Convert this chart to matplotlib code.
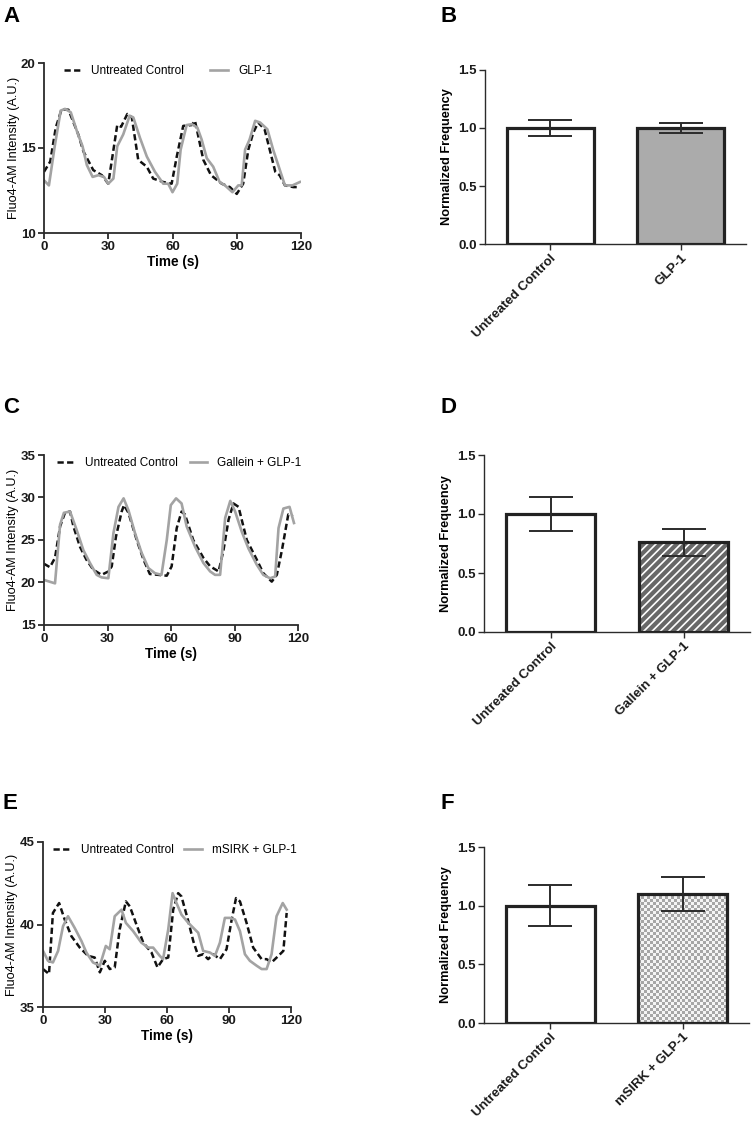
import numpy as np
import matplotlib
matplotlib.use("Agg")
import matplotlib.pyplot as plt

plt.rcParams['font.family'] = ['Liberation Sans', 'DejaVu Sans']
plt.rcParams['lines.scale_dashes'] = False
plt.rcParams['hatch.linewidth'] = 1.2

# ---- trace data (time in s, Fluo4-AM intensity) ----
tA_ctrl = [0, 2.9, 5.5, 8.2, 11.4, 16, 18.4, 23, 27, 30, 34.2, 36, 38.9, 41, 44, 48, 51, 55.7,
           59.6, 62, 65, 69, 70.5, 74.4, 78, 83, 86.8, 90, 93, 95.4, 97.7, 100, 103, 108,
           110, 112.5, 116.4, 118]
yA_ctrl = [13.6, 14.2, 16.2, 17.27, 17.25, 15.8, 14.8, 13.7, 13.4, 12.9, 16.35, 16.25, 17.0,
           16.8, 14.3, 13.9, 13.2, 13.0, 12.9, 14.5, 16.3, 16.35, 16.6, 14.3, 13.4, 12.9,
           12.7, 12.3, 12.9, 14.9, 15.9, 16.5, 16.1, 13.6, 13.4, 12.8, 12.7, 12.7]
tA_glp = [0, 2.3, 5, 7.8, 9.8, 12.5, 15.6, 18, 20, 22.7, 25.4, 28, 30, 32.4, 34.2, 37, 40,
          41.7, 44.8, 48, 51.8, 55.7, 58, 60, 62.2, 63.8, 66.6, 69, 71.6, 73.6, 76, 79, 82,
          84.5, 88, 90.7, 92.3, 93.9, 96, 98.6, 100.9, 104.3, 107, 112.5, 116, 119.5]
yA_glp = [13.1, 12.8, 15.1, 17.2, 17.3, 17.1, 15.9, 15.1, 14.0, 13.3, 13.4, 13.3, 12.9, 13.2,
          15.1, 15.8, 16.9, 16.8, 15.6, 14.5, 13.6, 12.9, 12.9, 12.4, 12.9, 14.9, 16.35, 16.4,
          16.2, 15.5, 14.4, 13.9, 13.0, 12.8, 12.4, 12.8, 12.8, 14.9, 15.5, 16.6, 16.5, 16.1,
          14.9, 12.8, 12.8, 13.0]

tC_ctrl = [0, 2.8, 5.2, 7.6, 9.9, 12.3, 13.9, 17, 20, 23.3, 27.2, 30.4, 32, 34, 36.7, 37.8,
           39.9, 43.8, 47, 50, 54, 58, 60.3, 62.7, 65, 66.6, 70.5, 75.3, 78.5, 82.5, 84.8,
           87.2, 89.5, 91.9, 95.8, 100.5, 103.6, 107.6, 110, 112.4, 115.4, 117.6]
yC_ctrl = [22.2, 21.8, 22.9, 26.6, 28.2, 28.35, 26.6, 24.2, 22.7, 21.5, 20.9, 21.3, 21.9, 25.4,
           28.35, 29.1, 28.2, 25.0, 22.7, 21.0, 20.9, 20.8, 21.9, 26.4, 28.35, 28.0, 25.0,
           22.9, 21.9, 21.3, 23.8, 27.4, 29.3, 28.9, 25.0, 22.7, 21.1, 20.1, 20.9, 23.8,
           28.0, 27.8]
tC_gal = [0, 5.2, 7.6, 9.4, 12.3, 15.4, 18.6, 21.7, 24.9, 27.2, 30.4, 32.8, 35.2, 37.6, 39.9,
          43, 46.1, 49.3, 52.4, 55.5, 58, 59.9, 62.4, 65, 67.4, 71.4, 75.3, 78.5, 80.8, 83.2,
          85.6, 88, 90.3, 93.4, 96.6, 100.5, 103.6, 106.8, 109.2, 110.8, 113.1, 116, 118.1]
yC_gal = [20.3, 19.9, 26.8, 28.2, 28.35, 26.2, 23.8, 22.3, 20.9, 20.6, 20.5, 25.8, 28.9, 29.9,
          28.5, 25.8, 23.5, 21.7, 21.1, 20.9, 25.0, 29.1, 29.9, 29.3, 26.6, 24.2, 22.3, 21.3,
          20.9, 20.9, 27.6, 29.6, 28.35, 26.0, 24.0, 22.1, 20.9, 20.5, 20.7, 26.4, 28.7, 28.9,
          27.0]

tE_ctrl = [0, 2.9, 4.8, 7.8, 10.5, 13.7, 17.8, 21.8, 25, 27.5, 29.9, 32.3, 34.7, 37.1, 40.1,
           42, 45.2, 48.5, 52.5, 55.4, 58.1, 60.6, 63, 65.4, 67, 70.3, 72.7, 75.1, 77.5, 79.9,
           82.4, 85.6, 88.8, 91.3, 93.4, 95.3, 98.5, 101.7, 105.8, 108.2, 110.6, 113.9, 116.3,
           117.9]
yE_ctrl = [37.3, 37.0, 40.7, 41.3, 40.3, 39.3, 38.6, 38.1, 38.0, 37.1, 37.8, 37.3, 37.4, 39.7,
           41.4, 41.1, 40.0, 38.9, 38.3, 37.4, 37.9, 38.0, 40.9, 41.9, 41.7, 40.2, 39.0, 38.1,
           38.2, 37.9, 38.2, 37.9, 38.5, 40.3, 41.6, 41.4, 40.1, 38.6, 37.9, 37.9, 37.7, 38.1,
           38.4, 40.7]
tE_msirk = [0, 2.4, 4.8, 7.3, 9.7, 12.1, 15.3, 18.6, 21, 24.2, 27.5, 30.4, 32.3, 34.7, 38,
            40.1, 43.6, 47.6, 50.9, 53.3, 56.5, 58.1, 60.6, 62.7, 64.6, 67, 70.3, 72.7, 75.1,
            77.5, 80.8, 83.2, 85.6, 88, 90.4, 92.9, 95.3, 97.7, 100.1, 103.4, 105.8, 108.2,
            110.6, 113, 116, 117.9]
yE_msirk = [38.4, 37.8, 37.7, 38.4, 39.9, 40.5, 39.8, 39.0, 38.3, 37.7, 37.5, 38.7, 38.5, 40.5,
            40.9, 40.1, 39.6, 38.9, 38.6, 38.6, 38.1, 37.9, 39.7, 41.9, 41.3, 40.6, 40.1, 39.8,
            39.5, 38.4, 38.3, 38.1, 38.9, 40.4, 40.4, 40.3, 39.6, 38.2, 37.8, 37.5, 37.3, 37.3,
            38.2, 40.5, 41.3, 40.9]

# ---- bar data (normalized frequency, mean and error) ----
groups_B = ['Untreated Control', 'GLP-1']
mean_B = [1.0, 1.0]
err_B = [0.07, 0.04]
groups_D = ['Untreated Control', 'Gallein + GLP-1']
mean_D = [1.0, 0.76]
err_D = [0.14, 0.115]
groups_F = ['Untreated Control', 'mSIRK + GLP-1']
mean_F = [1.0, 1.1]
err_F = [0.177, 0.142]

W, H = 755, 1122
fig = plt.figure(figsize=(W / 100, H / 100), dpi=100)

def px_axes(left, top, right, bottom):
    return fig.add_axes([left / W, 1 - bottom / H, (right - left) / W, (bottom - top) / H])

AX = '#2b2b2b'

def style(ax, lw):
    for s in ['top', 'right']:
        ax.spines[s].set_visible(False)
    for s in ['left', 'bottom']:
        ax.spines[s].set_color(AX)
        ax.spines[s].set_linewidth(lw)
    ax.tick_params(direction='out', length=4, width=lw, color=AX, labelsize=9.5,
                   pad=2, labelcolor='#1a1a1a')
    for lab in ax.get_xticklabels() + ax.get_yticklabels():
        lab.set_fontweight('bold')

def trace_panel(box, t1, y1, t2, y2, label2, ylim, yticks, leg_anchor, colsp):
    ax = px_axes(*box)
    ax.plot(t1, y1, color='#111111', lw=1.8, dashes=(4.5, 2.4), label='Untreated Control')
    ax.plot(t2, y2, color='#a3a3a3', lw=1.9, label=label2)
    ax.set_xlim(0, 120)
    ax.set_ylim(*ylim)
    ax.set_xticks([0, 30, 60, 90, 120])
    ax.set_yticks(yticks)
    style(ax, 1.3)
    ax.set_xlabel('Time (s)', fontsize=9.8, fontweight='bold', labelpad=1)
    ax.set_ylabel('Fluo4-AM Intensity (A.U.)', fontsize=9.1, labelpad=1)
    ax.legend(loc='upper left', bbox_to_anchor=leg_anchor, ncol=2, frameon=False,
              fontsize=8.5, handlelength=1.5, handletextpad=0.85, columnspacing=colsp,
              borderaxespad=0)
    return ax

def bar_panel(box, groups, means, errs, kind):
    ax = px_axes(*box)
    x = np.arange(len(groups))
    bars = ax.bar(x, means, width=0.67, color='white', edgecolor='#222222', linewidth=2.3,
                  zorder=2)
    b2 = bars[1]
    ax.set_xlim(-0.5, 1.5)
    ax.set_ylim(0, 1.5)
    if kind == 'gray':
        b2.set_facecolor('#ababab')
    elif kind == 'hatch':
        ax.bar(x[1:], means[1:], width=0.67, color='#686868', edgecolor='white',
               hatch='////', linewidth=0, zorder=1.5)
        b2.set_fill(False)
    elif kind == 'check':
        # checker cells of about 3 px
        p0 = ax.transData.transform((b2.get_x(), 0))
        p1 = ax.transData.transform((b2.get_x() + b2.get_width(), b2.get_height()))
        n_x = max(1, int(round((p1[0] - p0[0]) / 3)))
        n_y = max(1, int(round((p1[1] - p0[1]) / 3)))
        cb = (np.add.outer(np.arange(n_y), np.arange(n_x)) % 2).astype(float)
        x0 = b2.get_x()
        im = ax.imshow(cb, cmap=matplotlib.colors.ListedColormap(['#a6a6a6', '#f4f4f4']),
                       extent=[x0, x0 + b2.get_width(), 0, b2.get_height()],
                       aspect='auto', interpolation='nearest', zorder=1.5)
        im.set_clip_path(b2)
        b2.set_fill(False)
        ax.set_xlim(-0.5, 1.5)
        ax.set_ylim(0, 1.5)
    ax.errorbar(x, means, yerr=errs, fmt='none', ecolor='#2b2b2b', elinewidth=1.4,
                capsize=16, capthick=1.4, zorder=3)
    ax.set_yticks([0, 0.5, 1.0, 1.5])
    ax.set_yticklabels(['0.0', '0.5', '1.0', '1.5'])
    ax.set_xticks(x)
    ax.set_xticklabels(groups, rotation=45, ha='right', rotation_mode='anchor')
    style(ax, 1.0)
    ax.set_ylabel('Normalized Frequency', fontsize=9.2, fontweight='bold', labelpad=4)
    return ax

trace_panel((44, 63, 301, 233), tA_ctrl, yA_ctrl, tA_glp, yA_glp, 'GLP-1',
            (10, 20), [10, 15, 20], (0.058, 1.018), 2.2)
trace_panel((44, 455, 298, 625), tC_ctrl, yC_ctrl, tC_gal, yC_gal, 'Gallein + GLP-1',
            (15, 35), [15, 20, 25, 30, 35], (0.033, 1.018), 1.0)
trace_panel((43, 842, 291, 1007), tE_ctrl, yE_ctrl, tE_msirk, yE_msirk, 'mSIRK + GLP-1',
            (35, 45), [35, 40, 45], (0.021, 1.018), 0.9)

bar_panel((485, 70, 746, 244), groups_B, mean_B, err_B, 'gray')
bar_panel((484, 455, 750, 632), groups_D, mean_D, err_D, 'hatch')
bar_panel((484, 847, 749, 1023), groups_F, mean_F, err_F, 'check')

for letter, xp, yp in [('A', 3, 6), ('B', 440, 6), ('C', 3, 397), ('D', 440, 397),
                       ('E', 3, 793), ('F', 440, 793)]:
    fig.text(xp / W, 1 - yp / H, letter, fontsize=16, fontweight='bold', va='top', ha='left')

fig.savefig('out.png', dpi=100)
